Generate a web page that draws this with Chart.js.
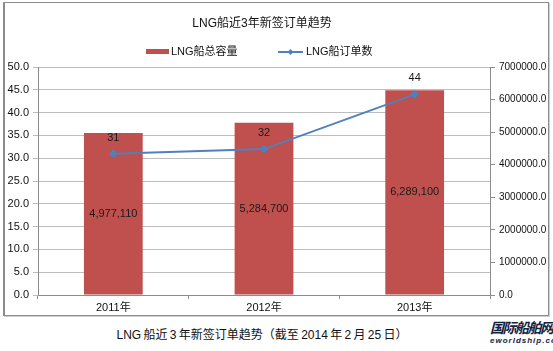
<!DOCTYPE html>
<html>
<head>
<meta charset="utf-8">
<script src="https://cdn.jsdelivr.net/npm/chart.js@4"></script>
<style>
    body { margin: 0; width: 553px; height: 351px; background: #fff; position: relative; overflow: hidden;
           font-family: "Liberation Sans", "Noto Sans CJK SC", sans-serif; }
    #frame { position: absolute; left: 3px; top: 2px; width: 543px; height: 312px;
             border: 1px solid #8c8c8c; border-left-width: 2px; box-shadow: 1px 1px 0 #d0d0d0; }
    #chart { position: absolute; left: 0; top: 0; }
    #caption { position: absolute; left: 262px; top: 325px; transform: translateX(-50%);
               white-space: nowrap; font-size: 12px; color: #111; word-spacing: -1px; }
    #logo { position: absolute; left: 490px; top: 320px; color: #13223e; }
    #logo .cn { font-size: 14px; font-weight: bold; letter-spacing: -1.5px; font-style: italic; line-height: 16px; }
    #logo .en { font-size: 8px; font-weight: bold; font-style: italic; letter-spacing: 1px; line-height: 9px; }
</style>
</head>
<body>
<div id="frame"><canvas id="chart" width="543" height="312"></canvas></div>
<div id="caption">LNG 船近 3 年新签订单趋势（截至 2014 年 2 月 25 日）</div>
<div id="logo"><div class="cn">国际船舶网</div><div class="en">eworldship.com</div></div>
<script>
// Chart data
const years = ['2011年', '2012年', '2013年'];
const capacity = [4977110, 5284700, 6289100];   // LNG船总容量 (right axis)
const orders = [31, 32, 44];                     // LNG船订单数 (left axis)

const TITLE = 'LNG船近3年新签订单趋势';
const BAR_COLOR = '#C0504D';
const LINE_COLOR = '#4F81BD';
const FONT = '"Liberation Sans", "Noto Sans CJK SC", sans-serif';

// Title, legend and value labels drawn by hand (Excel look)
const decorPlugin = {
    id: 'decor',
    afterDraw(chart) {
        const ctx = chart.ctx;
        ctx.save();
        ctx.fillStyle = '#111';
        ctx.font = '12px ' + FONT;
        ctx.textAlign = 'center';
        ctx.textBaseline = 'middle';
        ctx.fillText(TITLE, 257, 21);

        // legend
        ctx.font = '11px ' + FONT;
        ctx.textAlign = 'left';
        ctx.fillStyle = BAR_COLOR;
        ctx.fillRect(141, 46, 23, 5);
        ctx.fillStyle = '#111';
        ctx.fillText(chart.data.datasets[0].label, 166, 49);

        ctx.strokeStyle = LINE_COLOR;
        ctx.lineWidth = 2;
        ctx.beginPath();
        ctx.moveTo(273, 49);
        ctx.lineTo(298, 49);
        ctx.stroke();
        ctx.fillStyle = LINE_COLOR;
        ctx.beginPath();
        ctx.moveTo(285.5, 46); ctx.lineTo(288.5, 49); ctx.lineTo(285.5, 52); ctx.lineTo(282.5, 49);
        ctx.closePath();
        ctx.fill();
        ctx.fillStyle = '#111';
        ctx.fillText(chart.data.datasets[1].label, 301, 49);
        ctx.restore();
    },
    afterDatasetsDraw(chart) {
        const ctx = chart.ctx;
        ctx.save();
        ctx.font = '11px ' + FONT;
        ctx.fillStyle = '#1a1a1a';
        ctx.textAlign = 'center';
        ctx.textBaseline = 'middle';
        chart.getDatasetMeta(0).data.forEach((bar, i) => {
            ctx.fillText(capacity[i].toLocaleString('en-US'), bar.x, (bar.y + bar.base) / 2);
        });
        chart.getDatasetMeta(1).data.forEach((pt, i) => {
            ctx.fillText(String(orders[i]), pt.x, pt.y - 16);
        });
        ctx.restore();
    }
};

const ctx = document.getElementById('chart').getContext('2d');
new Chart(ctx, {
    data: {
        labels: years,
        datasets: [
            {
                type: 'bar',
                label: 'LNG船总容量',
                data: capacity,
                yAxisID: 'y1',
                backgroundColor: BAR_COLOR,
                barPercentage: 0.39,
                categoryPercentage: 1,
                order: 2
            },
            {
                type: 'line',
                label: 'LNG船订单数',
                data: orders,
                yAxisID: 'y',
                borderColor: LINE_COLOR,
                backgroundColor: LINE_COLOR,
                borderWidth: 2,
                pointStyle: 'rectRot',
                pointRadius: 3,
                tension: 0,
                order: 1
            }
        ]
    },
    options: {
        responsive: false,
        animation: false,
        layout: { padding: { top: 64, left: 0, right: 0, bottom: 0 } },
        plugins: {
            legend: { display: false },
            title: { display: false },
            tooltip: { enabled: false }
        },
        scales: {
            x: {
                offset: true,
                grid: { offset: true, drawOnChartArea: false, tickLength: 4, color: '#8c8c8c' },
                border: { color: '#8c8c8c' },
                ticks: { color: '#111', font: { size: 11, family: FONT }, padding: 2 },
                afterFit: s => { s.height = 20; }
            },
            y: {
                position: 'left',
                min: 0, max: 50,
                grid: { color: '#bdbdbd', tickLength: 5 },
                border: { color: '#8c8c8c' },
                ticks: { stepSize: 5, color: '#111', font: { size: 11, family: FONT }, padding: 4,
                         callback: v => v.toFixed(1) },
                afterFit: s => { s.width = 33; }
            },
            y1: {
                position: 'right',
                min: 0, max: 7000000,
                grid: { drawOnChartArea: false, tickLength: 5, color: '#8c8c8c' },
                border: { color: '#8c8c8c' },
                ticks: { stepSize: 1000000, color: '#111', font: { size: 10, family: FONT }, padding: 4,
                         callback: v => v.toFixed(1) },
                afterFit: s => { s.width = 58; }
            }
        }
    },
    plugins: [decorPlugin]
});
</script>
</body>
</html>
